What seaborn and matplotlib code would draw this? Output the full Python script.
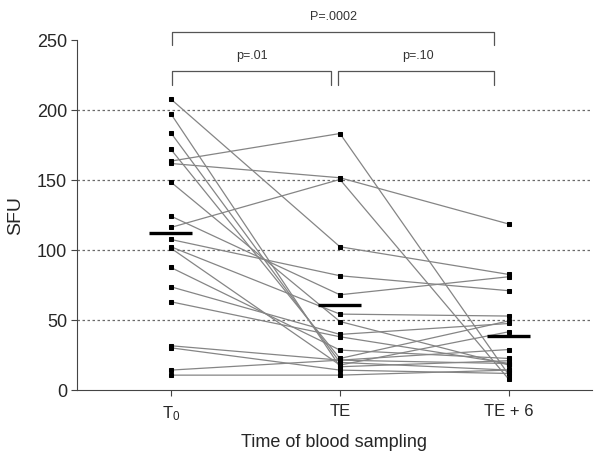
import numpy as np
import pandas as pd
import matplotlib
matplotlib.use("Agg")
import matplotlib.pyplot as plt
import seaborn as sns

# ---- data ----
timepoints = ["T0", "TE", "TE6"]
tick_labels = [r"T$_0$", "TE", "TE + 6"]
t0 = [207.9, 197.4, 183.8, 172.0, 163.6, 161.9, 148.6, 124.3, 116.2, 107.6,
      102.4, 101.4, 87.6, 73.8, 63.1, 31.7, 30.2, 14.3, 10.7]
te = [102.4, 16.7, 19.8, 22.6, 183.3, 151.7, 49.0, 68.1, 150.5, 81.7,
      54.3, 17.9, 28.6, 39.8, 38.1, 21.4, 14.3, 21.4, 10.7]
te6 = [82.6, 21.0, 14.3, 49.5, 10.7, 118.6, 17.9, 81.0, 7.6, 71.0,
       52.9, 41.7, 22.6, 47.6, 19.0, 29.0, 11.9, 19.0, 14.3]
means = [112, 61, 39]
p_labels = ["P=.0002", "p=.01", "p=.10"]

n = len(t0)
df = pd.DataFrame({
    "subject": np.tile(np.arange(n), 3),
    "time": np.repeat(np.arange(3), n),
    "SFU": t0 + te + te6,
})

sns.set_theme(style="white")
plt.rcParams["font.family"] = ["Liberation Sans", "DejaVu Sans"]
plt.rcParams["mathtext.fontset"] = "custom"
plt.rcParams["mathtext.rm"] = "Liberation Sans"
plt.rcParams["mathtext.it"] = "Liberation Sans"

fig = plt.figure(figsize=(5.96, 4.51), dpi=100)
ax = fig.add_axes([0.129, 0.135, 0.864, 0.776])

for yv in [50, 100, 150, 200]:
    ax.axhline(yv, color="#6a6a6a", lw=0.9, ls=(0, (2, 2)), zorder=0)

sns.lineplot(data=df, x="time", y="SFU", units="subject", estimator=None,
             color="#858585", lw=0.9, marker="s", markersize=2.8,
             markerfacecolor="black", markeredgecolor="black",
             ax=ax, legend=False, zorder=2)

ax.hlines(means, np.arange(3) - 0.13, np.arange(3) + 0.125,
          color="black", lw=2.4, zorder=3)

ax.set_xlim(-0.556, 2.49)
ax.set_ylim(0, 250)
ax.set_xticks(range(3))
ax.set_xticklabels(tick_labels, fontsize=12)
ax.set_yticks([0, 50, 100, 150, 200, 250])
ax.tick_params(axis="y", labelsize=13, length=4, width=0.8, color="#444444",
               direction="out", left=True, pad=3)
ax.tick_params(axis="x", length=4, width=0.8, color="#444444",
               direction="out", bottom=True, pad=6)
sns.despine(ax=ax)
for s in ["left", "bottom"]:
    ax.spines[s].set_color("#444444")
    ax.spines[s].set_linewidth(0.8)

ax.set_ylabel("SFU", fontsize=14, labelpad=9)
ax.set_xlabel("Time of blood sampling", fontsize=13, labelpad=8)

# significance brackets
bc = "#555555"
ax.plot([0.006, 0.006, 1.91, 1.91], [246.4, 255.7, 255.7, 246.4],
        color=bc, lw=0.9, clip_on=False)
ax.plot([0.006, 0.006, 0.947, 0.947], [217.9, 227.9, 227.9, 217.9],
        color=bc, lw=0.9, clip_on=False)
ax.plot([0.988, 0.988, 1.91, 1.91], [217.9, 227.9, 227.9, 217.9],
        color=bc, lw=0.9, clip_on=False)
ax.text(0.96, 266.5, p_labels[0], ha="center", va="center", fontsize=9,
        color="#333333", clip_on=False)
ax.text(0.48, 238.5, p_labels[1], ha="center", va="center", fontsize=9,
        color="#333333", clip_on=False)
ax.text(1.46, 238.5, p_labels[2], ha="center", va="center", fontsize=9,
        color="#333333", clip_on=False)

fig.savefig("out.png", dpi=100)
